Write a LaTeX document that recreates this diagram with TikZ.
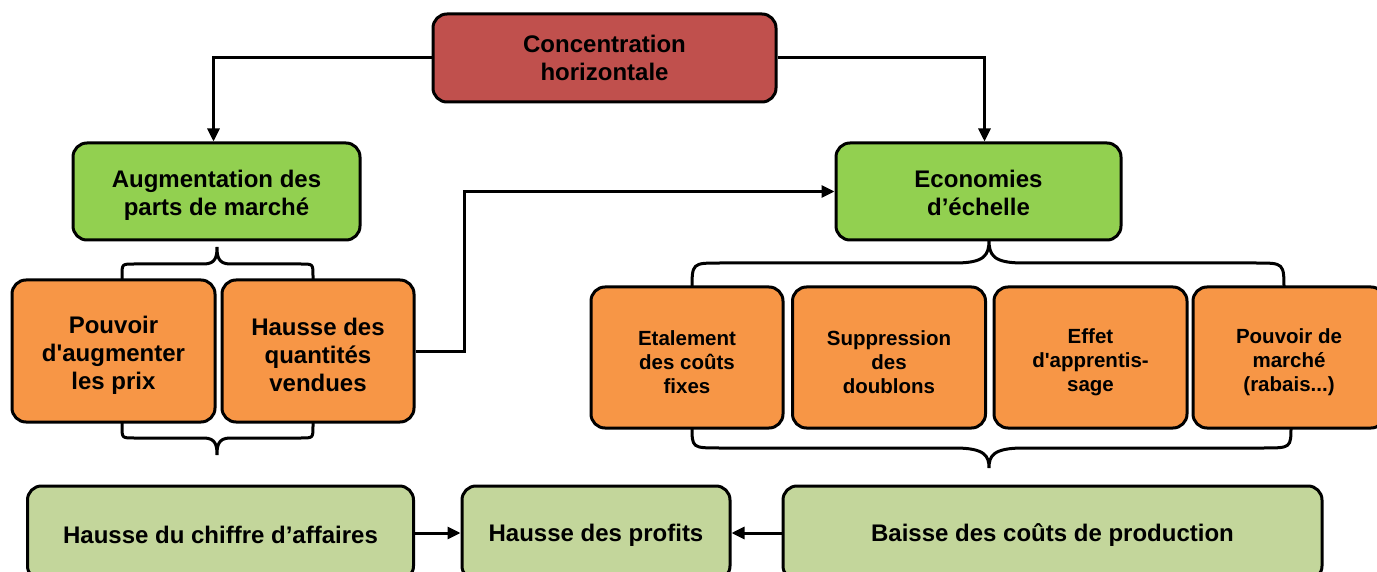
\documentclass[tikz,border=0pt]{standalone}
\usepackage{fontspec}
\setmainfont{Liberation Sans}
\usetikzlibrary{arrows.meta}
\definecolor{cred}{HTML}{C0504D}
\definecolor{cgreen}{HTML}{92D050}
\definecolor{corange}{HTML}{F79646}
\definecolor{clight}{HTML}{C3D69B}
\newcommand\myup[1]{\rule{0pt}{#1}}
\begin{document}
\begin{tikzpicture}[x=1pt,y=-1pt,
  box/.style={draw=black, line width=3pt, rounded corners=14pt, align=center, inner sep=0pt,
    font=\bfseries\fontsize{24}{28}\selectfont},
  smallbox/.style={box, font=\bfseries\fontsize{20.5}{24}\selectfont},
  brace/.style={draw=black, line width=3pt},
  arr/.style={draw=black, line width=3pt, -{Triangle[length=13pt,width=12pt]}}]
\useasboundingbox (0,0) rectangle (1377,572);
% braces
\draw[brace] (122,282) -- (122,276) .. controls (122,264) .. (134,264) -- (204,264) .. controls (216,264) and (217,256) .. (217,247) .. controls (217,256) and (218,264) .. (230,264) -- (301,264) .. controls (313,264) .. (313,276) -- (313,282);
\draw[brace] (122,420) -- (122,426) .. controls (122,438) .. (134,438) -- (204,438) .. controls (216,438) and (217,446) .. (217,455) .. controls (217,446) and (218,438) .. (230,438) -- (301,438) .. controls (313,438) .. (313,426) -- (313,420);
\draw[brace] (692,290) .. controls (692,263) .. (720,263) -- (955,263) .. controls (985,263) and (989,255) .. (989,240) .. controls (989,255) and (993,263) .. (1023,263) -- (1256,263) .. controls (1284,263) .. (1284,290);
\draw[brace] (692,426) .. controls (692,448) .. (720,448) -- (955,448) .. controls (985,448) and (989,456) .. (989,468) .. controls (989,456) and (993,448) .. (1023,448) -- (1263,448) .. controls (1291,448) .. (1291,426);
% nodes
\node[box, fill=cred, minimum width=343pt, minimum height=88pt] (conc) at (604.5,58) {Concentration\\horizontale};
\node[box, fill=cgreen, minimum width=287pt, minimum height=97pt] (aug) at (216.5,191.5) {\myup{25.5pt}Augmentation des\\parts de march\'e};
\node[box, fill=cgreen, minimum width=285pt, minimum height=97pt] (eco) at (978.5,191.5) {\myup{20pt}Economies\\d’\'echelle};
\node[box, fill=corange, minimum width=203pt, minimum height=142pt] (pa) at (113.5,351) {\myup{25.5pt}Pouvoir\\d\textquotesingle augmenter\\les prix};
\node[box, fill=corange, minimum width=192pt, minimum height=142pt] (hq) at (318,351) {\myup{25.5pt}Hausse des\\quantit\'es\\vendues};
\node[smallbox, fill=corange, minimum width=192pt, minimum height=141pt] (et) at (687,357.5) {\myup{25pt}Etalement\\des co\^uts\\fixes};
\node[smallbox, fill=corange, minimum width=193pt, minimum height=141pt] (su) at (889,357.5) {\myup{25pt}Suppression\\des\\doublons};
\node[smallbox, fill=corange, minimum width=193pt, minimum height=141pt] (ef) at (1090.5,357.5) {\myup{25pt}Effet\\d\textquotesingle apprentis-\\sage};
\node[smallbox, fill=corange, minimum width=192pt, minimum height=141pt] (pm) at (1289,357.5) {\myup{25pt}Pouvoir de\\march\'e\\(rabais...)};
\node[box, fill=clight, minimum width=386pt, minimum height=94pt] (ch) at (220.5,533) {\myup{21.5pt}Hausse du chiffre d’affaires};
\node[box, fill=clight, minimum width=268pt, minimum height=94pt] (pr) at (596,533) {\myup{21.5pt}Hausse des profits};
\node[box, fill=clight, minimum width=539pt, minimum height=94pt] (ba) at (1052.5,533) {\myup{21.5pt}Baisse des co\^uts de production};
% connectors
\draw[arr] (conc.west) -| ([xshift=-3pt]aug.north);
\draw[arr] (conc.east) -| ([xshift=6pt]eco.north);
\draw[arr] (hq.east) -- ++(49,0) |- (eco.west);
\draw[arr] (ch.east) -- (pr.west);
\draw[arr] (ba.west) -- (pr.east);
\end{tikzpicture}
\end{document}
